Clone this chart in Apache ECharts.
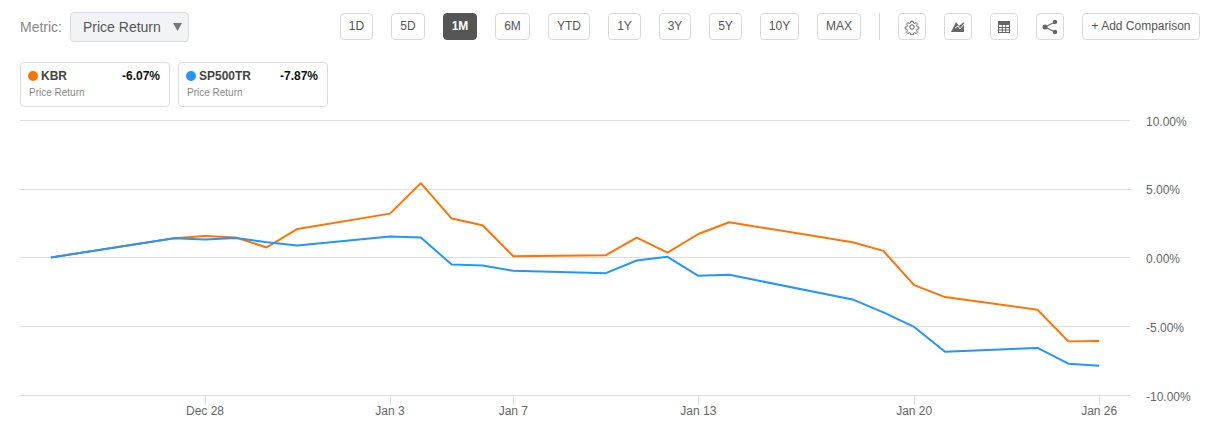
<!DOCTYPE html>
<html>
<head>
<meta charset="utf-8">
<title>KBR vs SP500TR</title>
<script src="https://cdn.jsdelivr.net/npm/echarts@6/dist/echarts.min.js"></script>
<style>
  html, body { margin: 0; padding: 0; background: #fff; }
  body { width: 1210px; height: 427px; position: relative; overflow: hidden; font-family: "Liberation Sans", Arial, sans-serif; }
  #chart { position: absolute; left: 0; top: 0; width: 1210px; height: 427px; }
  .ui { position: absolute; box-sizing: border-box; }
  .btn { top: 13px; height: 27px; line-height: 25px; text-align: center; font-size: 12px; color: #555; background: #fff; border: 1px solid #d9d9d9; border-radius: 4px; }
  .btn.active { background: #555; border-color: #555; color: #fff; font-weight: bold; }
  .btn svg { display: block; margin: 5px auto 0; }
  .card { top: 62px; width: 150px; height: 45px; border: 1px solid #dcdcdc; border-radius: 4px; background: #fff; }
  .card i { position: absolute; left: 7px; top: 8px; width: 10px; height: 10px; border-radius: 50%; }
  .card b { position: absolute; top: 6px; font-size: 12px; line-height: 14px; }
  .card .name { left: 20px; color: #444; }
  .card .val { right: 9px; color: #111; }
  .card span { position: absolute; left: 8px; top: 24px; font-size: 10px; line-height: 12px; color: #888; }
</style>
</head>
<body>
<div id="chart"></div>
<div class="ui" style="left:20px;top:18px;font-size:14px;line-height:18px;color:#888">Metric:</div>
<div class="ui" style="left:70px;top:12px;width:119px;height:30px;background:#f2f3f7;border:1px solid #d9d9d9;border-radius:4px;font-size:14px;line-height:28px;color:#555;padding-left:12px">Price Return
  <svg style="position:absolute;left:102px;top:9px" width="10" height="10"><path d="M0 1H9L4.5 9Z" fill="#777"/></svg>
</div>
<div id="buttons"></div>
<div class="ui" style="left:879px;top:13px;width:1px;height:27px;background:#d9d9d9"></div>
<div class="ui btn" style="left:898px;width:28px"><svg width="16" height="16" viewBox="0 0 16 16" fill="none" stroke="#555"><circle cx="8" cy="8" r="2.2"/><path d="M6.8 1.5h2.4l.4 2 1.3.6 1.8-1 1.4 1.6-1.1 1.7.5 1.3 2 .5v2l-2 .5-.5 1.3 1.1 1.7-1.4 1.6-1.8-1-1.3.6-.4 2H6.8l-.4-2-1.3-.6-1.8 1-1.4-1.6 1.1-1.7-.5-1.3-2-.5v-2l2-.5.5-1.3-1.1-1.7 1.4-1.6 1.8 1 1.3-.6z" transform="translate(.8 .8) scale(.9)"/></svg></div>
<div class="ui btn" style="left:944px;width:28px"><svg width="16" height="16" viewBox="0 0 16 16"><path d="M1 13L6 3l3 4 5-4v10z" fill="#666"/><path d="M5 9l3-2 2 3 4-5" fill="none" stroke="#fff"/></svg></div>
<div class="ui btn" style="left:990px;width:28px"><svg width="16" height="16" viewBox="0 0 16 16"><rect x="2" y="2" width="12" height="12" fill="#666"/><path d="M3 6h10v7H3z" fill="#fff"/><path d="M3 8.5h10M3 11h10M6.3 6v7M9.7 6v7" stroke="#666"/></svg></div>
<div class="ui btn" style="left:1036px;width:28px"><svg width="16" height="16" viewBox="0 0 16 16"><path d="M13 3L3 8l10 5" fill="none" stroke="#666" stroke-width="1.2"/><circle cx="13" cy="3" r="2.2" fill="#666"/><circle cx="3" cy="8" r="2.5" fill="#666"/><circle cx="13" cy="13" r="2.2" fill="#666"/></svg></div>
<div class="ui btn" style="left:1082px;width:118px">+ Add Comparison</div>
<div class="ui card" style="left:20px"><i style="background:#ff7300"></i><b class="name">KBR</b><b class="val">-6.07%</b><span>Price Return</span></div>
<div class="ui card" style="left:178px"><i style="background:#2196ff"></i><b class="name">SP500TR</b><b class="val">-7.87%</b><span>Price Return</span></div>

<script>
// values
const dates = ['2021-12-23', '2021-12-27', '2021-12-28', '2021-12-29', '2021-12-30', '2021-12-31',
  '2022-01-03', '2022-01-04', '2022-01-05', '2022-01-06', '2022-01-07', '2022-01-10', '2022-01-11',
  '2022-01-12', '2022-01-13', '2022-01-14', '2022-01-18', '2022-01-19', '2022-01-20', '2022-01-21',
  '2022-01-24', '2022-01-25', '2022-01-26']
const kbrValues = [0, 1.4, 1.57, 1.45, 0.73, 2.08, 3.19, 5.41, 2.83, 2.34, 0.09, 0.17, 1.45,
  0.36, 1.71, 2.56, 1.11, 0.48, -2.01, -2.88, -3.8, -6.1, -6.07]
const spValues = [0, 1.4, 1.31, 1.42, 1.11, 0.87, 1.52, 1.45, -0.51, -0.58, -0.97, -1.14, -0.22,
  0.05, -1.33, -1.26, -3.05, -3.99, -5.05, -6.85, -6.58, -7.72, -7.87]
const tickDates = ['2021-12-28', '2022-01-03', '2022-01-07', '2022-01-13', '2022-01-20', '2022-01-26']
const tickLabels = ['Dec 28', 'Jan 3', 'Jan 7', 'Jan 13', 'Jan 20', 'Jan 26']
const rangeButtons = [['1D', 340, 33], ['5D', 391, 34], ['1M', 443, 34], ['6M', 495, 35], ['YTD', 548, 42],
  ['1Y', 608, 33], ['3Y', 659, 32], ['5Y', 709, 33], ['10Y', 760, 39], ['MAX', 817, 44]]

const toTime = d => +echarts.time.parse(d)
const tickTimes = tickDates.map(toTime)

document.getElementById('buttons').innerHTML = rangeButtons.map(([label, left, width]) =>
  `<div class="ui btn${label === '1M' ? ' active' : ''}" style="left:${left}px;width:${width}px">${label}</div>`).join('')

const lineColor = '#dcdcdc'
const chart = echarts.init(document.getElementById('chart'), null, { renderer: 'svg' })

chart.setOption({
  animation: false,
  grid: { left: 20, right: 80, top: 120, bottom: 32 },
  // value axis holding timestamps: time axis breaks on customValues
  xAxis: {
    type: 'value',
    scale: true,
    min: toTime('2021-12-22'),
    max: toTime('2022-01-27'),
    splitLine: { show: false },
    axisLine: { onZero: false, lineStyle: { color: lineColor, width: 1 } },
    axisTick: { show: true, length: 10, customValues: tickTimes, lineStyle: { color: lineColor } },
    axisLabel: {
      customValues: tickTimes,
      color: '#666',
      fontSize: 12,
      fontFamily: 'Liberation Sans',
      margin: 10,
      hideOverlap: false,
      formatter: value => tickLabels[tickTimes.indexOf(+value)]
    }
  },
  yAxis: {
    type: 'value',
    position: 'right',
    min: -10,
    max: 10,
    interval: 5,
    axisLine: { show: false },
    axisTick: { show: false },
    splitLine: { lineStyle: { color: lineColor, width: 1 } },
    axisLabel: {
      color: '#666',
      fontSize: 12,
      fontFamily: 'Liberation Sans',
      margin: 16,
      align: 'left',
      // labels sit a bit under their grid line
      verticalAlign: 'top',
      lineHeight: 3,
      formatter: value => value.toFixed(2) + '%'
    }
  },
  series: [
    { name: 'KBR', type: 'line', symbol: 'none', color: '#ff7300', lineStyle: { width: 2 },
      data: dates.map((d, i) => [toTime(d), kbrValues[i]]) },
    { name: 'SP500TR', type: 'line', symbol: 'none', color: '#2196ff', lineStyle: { width: 2 },
      data: dates.map((d, i) => [toTime(d), spValues[i]]) }
  ]
})
</script>
</body>
</html>
